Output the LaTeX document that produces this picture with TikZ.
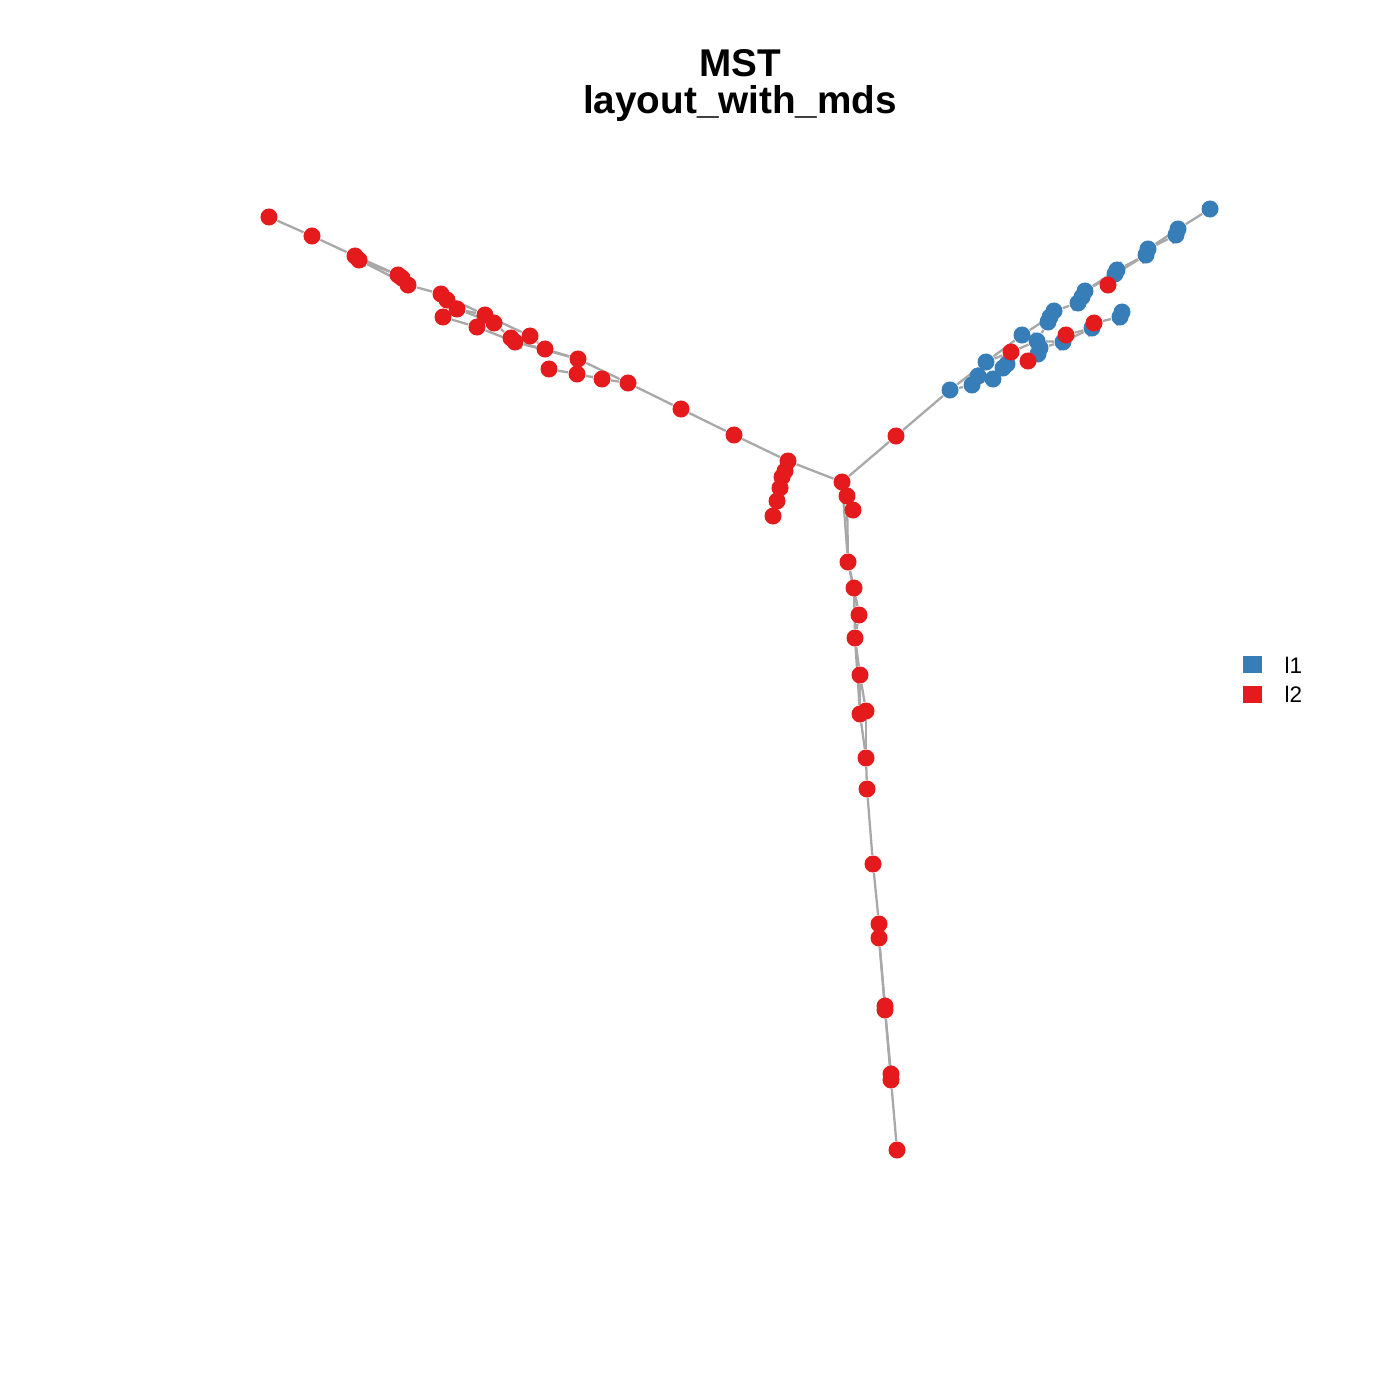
\documentclass[tikz,border=0pt]{standalone}
\usepackage{fontspec}
\setmainfont{Liberation Sans}
\pgfdeclarelayer{background}
\pgfdeclarelayer{paper}
\pgfsetlayers{paper,background,main}
\definecolor{rd}{HTML}{E41A1C}
\definecolor{bl}{HTML}{377EB8}
\definecolor{edg}{HTML}{A8A8A8}
\begin{document}
\begin{tikzpicture}[x=0.01cm,y=-0.01cm,
  rdot/.style={circle,fill=rd,inner sep=0pt,minimum size=0.17cm},
  bdot/.style={circle,fill=bl,inner sep=0pt,minimum size=0.17cm},
  edge/.style={draw=edg,line width=0.65pt},
  ttl/.style={font=\bfseries\fontsize{11}{13}\selectfont},
  leg/.style={font=\fontsize{6.4}{8}\selectfont,anchor=west,inner sep=0pt}]
\begin{pgfonlayer}{paper}
\fill[white] (0,0) rectangle (1400,1400);
\end{pgfonlayer}
\useasboundingbox (0,0) rectangle (1400,1400);
\node[ttl] (t1) at (740,63) {MST};
\node[ttl] (t2) at (740,104) {layout\_with\_mds};
% legend
\node[fill=bl,inner sep=0pt,minimum width=0.19cm,minimum height=0.17cm] (k1) at (1252,664) {};
\node[fill=rd,inner sep=0pt,minimum width=0.19cm,minimum height=0.17cm] (k2) at (1252,694) {};
\node[leg] (k1t) at (1284,665) {l1};
\node[leg] (k2t) at (1284,694) {l2};
% blue dots
\foreach \n/\x/\y in {B1/950/390,B2/972/385,B3/978/376,B4/986/362,B5/993/379,B6/1003/368,B7/1007/364,B8/1022/335,B9/1037/341,B10/1040/348,B11/1038/354,B12/1048/322,B13/1050/317,B14/1054/311,B15/1063/342,B16/1078/303,B17/1082/297,B18/1085/291,B19/1092/328,B20/1115/274,B21/1117/270,B22/1120/317,B23/1122/312,B24/1146/255,B25/1148/249,B26/1176/235,B27/1178/229,B28/1210/209}
  \node[bdot] (\n) at (\x,\y) {};
% red dots
\foreach \n/\x/\y in {R0/896/436,R1/1011/352,R2/1028/361,R3/1066/335,R4/1094/323,R5/1108/285,
  C1/842/482,C2/847/496,C3/853/510,
  D1/848/562,D2/854/588,D3/859/615,D4/855/638,D5/860/675,D6/860/714,D7/866/711,D8/866/758,D9/867/789,D10/873/864,D11/879/924,D12/879/938,D13/885/1006,D14/885/1010,D15/891/1074,D16/891/1080,D17/897/1150,
  L1/269/217,L2/312/236,L3/355/256,L4/359/260,L5/398/275,L6/402/278,L7/408/285,L8/441/294,L9/447/300,L10/457/309,L11/443/317,L12/485/315,L13/494/323,L14/477/327,L15/511/338,L16/515/342,L17/530/336,L18/545/349,L19/578/359,L20/549/369,L21/577/374,L22/602/379,L23/628/383,L24/681/409,L25/734/435,L26/788/461,L27/785/471,L28/782/477,L29/780/488,L30/777/501,L31/773/516}
  \node[rdot] (\n) at (\x,\y) {};
\begin{pgfonlayer}{background}
\foreach \a/\b in {C1/L26,L26/L25,L25/L24,L24/L23,L23/L19,L19/L18,L18/L17,L18/L16,L16/L15,L15/L13,L13/L12,L17/L12,L12/L10,L10/L9,L9/L8,L8/L7,L7/L6,L6/L5,L5/L4,L4/L3,L3/L2,L2/L1,L23/L22,L22/L21,L21/L20,L16/L14,L14/L11,L26/L27,L27/L28,L28/L29,L29/L30,L30/L31,L3/L5,L4/L7,L8/L12,L10/L13,L19/L16,
  C1/C2,C2/C3,C1/D1,C2/D1,D1/D2,D2/D3,D3/D4,D4/D5,D5/D6,D6/D8,D5/D7,D7/D8,D8/D9,D9/D10,D10/D11,D11/D12,D12/D13,D13/D14,D14/D15,D15/D16,D16/D17,D1/D3,D2/D4,D4/D6,D12/D14,D14/D16,
  C1/R0,R0/B1,B1/B2,B2/B3,B3/B4,B4/B8,B8/B13,B13/B14,B14/B12,B14/B16,B16/B17,B17/B18,B18/B21,B21/B20,B20/R5,B21/B24,B24/B25,B25/B26,B26/B27,B27/B28,B18/B20,B20/B24,B25/B27,
  B2/B5,B5/B6,B6/B7,B7/R1,R1/B9,B9/B10,B10/B11,B11/R2,B10/B15,B15/R3,R3/B19,B19/R4,R4/B22,B22/B23,B1/B4,B4/R1,B12/B9,B9/B15,B15/B19}
  \draw[edge] (\a) -- (\b);
\end{pgfonlayer}
\end{tikzpicture}
\end{document}
